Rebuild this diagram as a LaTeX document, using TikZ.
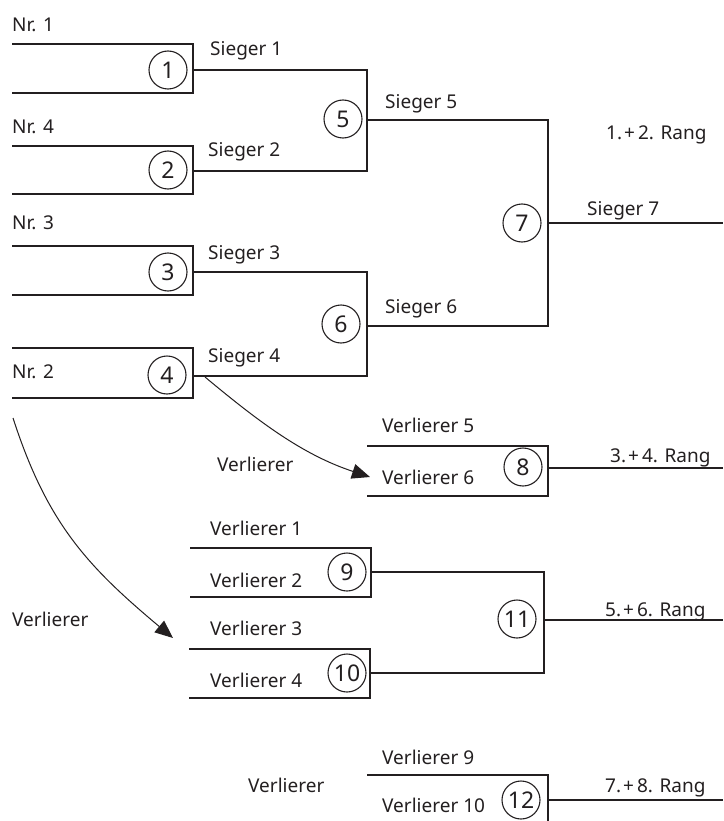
\documentclass[tikz,border=0pt]{standalone}
\usepackage{fontspec}
\setmainfont{Noto Sans}
\usetikzlibrary{arrows.meta}
\definecolor{ink}{RGB}{35,31,32}
\newcommand{\rang}[2]{#1.\kern2pt+\kern3pt#2. Rang}
\begin{document}
\begin{tikzpicture}[x=1pt,y=-1pt,
  line/.style={draw=ink,line width=1.4pt,line join=miter},
  num/.style={circle,draw=ink,line width=1.1pt,minimum size=38pt,inner sep=0pt,
    font=\fontsize{23}{23}\selectfont,text=ink},
  lbl/.style={anchor=base west,inner sep=0pt,font=\fontsize{19}{22}\selectfont,text=ink},
  loser/.style={draw=ink,line width=1pt,-{Triangle[length=18pt,width=15pt]}}
]
\useasboundingbox (0,0) rectangle (723,821);

% --- corner and exit points of the brackets
\coordinate (t1) at (12,44);   \coordinate (o1) at (193,70);  \coordinate (b1) at (12,93);
\coordinate (t2) at (12,146);  \coordinate (o2) at (193,171); \coordinate (b2) at (12,194);
\coordinate (t3) at (12,246);  \coordinate (o3) at (193,272); \coordinate (b3) at (12,295);
\coordinate (t4) at (12,348);  \coordinate (o4) at (193,376); \coordinate (b4) at (12,398);
\coordinate (o5) at (367,120);
\coordinate (o6) at (367,326);
\coordinate (o7) at (548,223);  \coordinate (e7) at (723,223);
\coordinate (t8) at (367,446);  \coordinate (o8) at (548,468); \coordinate (b8) at (367,496);
\coordinate (e8) at (723,468);
\coordinate (t9) at (190,548);  \coordinate (o9) at (371,572); \coordinate (b9) at (190,597);
\coordinate (t10) at (189,649); \coordinate (o10) at (370,673); \coordinate (b10) at (189,698);
\coordinate (o11) at (544,620); \coordinate (e11) at (723,620);
\coordinate (t12) at (367,775); \coordinate (o12) at (548,800); \coordinate (b12) at (548,821);
\coordinate (e12) at (723,800);

% --- first round
\draw[line] (t1) -| (o1) |- (b1);
\draw[line] (t2) -| (o2) |- (b2);
\draw[line] (t3) -| (o3) |- (b3);
\draw[line] (t4) -| (o4) |- (b4);
% --- semifinals and final
\draw[line] (o1) -| (o5) |- (o2);
\draw[line] (o3) -| (o6) |- (o4);
\draw[line] (o5) -| (o7) |- (o6);
\draw[line] (o7) -- (e7);
% --- placement matches
\draw[line] (t8) -| (o8) |- (b8);
\draw[line] (o8) -- (e8);
\draw[line] (t9) -| (o9) |- (b9);
\draw[line] (t10) -| (o10) |- (b10);
\draw[line] (o9) -| (o11) |- (o10);
\draw[line] (o11) -- (e11);
\draw[line] (t12) -| (o12) -- (b12);
\draw[line] (o12) -- (e12);

% --- match numbers
\node[num] (m1) at (168,70) {1};
\node[num] (m2) at (168,170) {2};
\node[num] (m3) at (168,272) {3};
\node[num] (m4) at (167,375) {4};
\node[num] (m5) at (343,119) {5};
\node[num] (m6) at (341,324) {6};
\node[num] (m7) at (522,223) {7};
\node[num] (m8) at (523,467) {8};
\node[num] (m9) at (347,572) {9};
\node[num] (m10) at (347,673) {10};
\node[num] (m11) at (517,619) {11};
\node[num] (m12) at (521,800) {12};

% --- labels
\node[lbl] (n1) at (12,32) {Nr. 1};
\node[lbl] (n4) at (12,134) {Nr. 4};
\node[lbl] (n3) at (12,229) {Nr. 3};
\node[lbl] (n2) at (12,378) {Nr. 2};
\node[lbl] (s1) at (210,56) {Sieger 1};
\node[lbl] (s2) at (208,157) {Sieger 2};
\node[lbl] (s3) at (208,259) {Sieger 3};
\node[lbl] (s4) at (208,362) {Sieger 4};
\node[lbl] (s5) at (385,109) {Sieger 5};
\node[lbl] (s6) at (385,313) {Sieger 6};
\node[lbl] (s7) at (587,215) {Sieger 7};
\node[lbl] (r12) at (606,140) {\rang{1}{2}};
\node[lbl] (v5) at (382,432) {Verlierer 5};
\node[lbl] (v6) at (382,484) {Verlierer 6};
\node[lbl] (r34) at (610,462) {\rang{3}{4}};
\node[lbl] (va) at (217,471) {Verlierer};
\node[lbl] (v1) at (210,535) {Verlierer 1};
\node[lbl] (v2) at (210,587) {Verlierer 2};
\node[lbl] (v3) at (210,635) {Verlierer 3};
\node[lbl] (v4) at (210,687) {Verlierer 4};
\node[lbl] (vb) at (12,626) {Verlierer};
\node[lbl] (r56) at (605,616) {\rang{5}{6}};
\node[lbl] (v9) at (382,764) {Verlierer 9};
\node[lbl] (v10) at (382,812) {Verlierer 10};
\node[lbl] (vc) at (248,792) {Verlierer};
\node[lbl] (r78) at (605,792) {\rang{7}{8}};

% --- losers move down
\coordinate (l4) at (205,377);  \coordinate (into8) at (370,477);
\coordinate (lq) at (13,418);   \coordinate (into10) at (173,638);
\draw[loser] (l4) .. controls (259,422) and (303,455) .. (into8);
\draw[loser] (lq) .. controls (47,523) and (87,566) .. (into10);
\end{tikzpicture}
\end{document}
